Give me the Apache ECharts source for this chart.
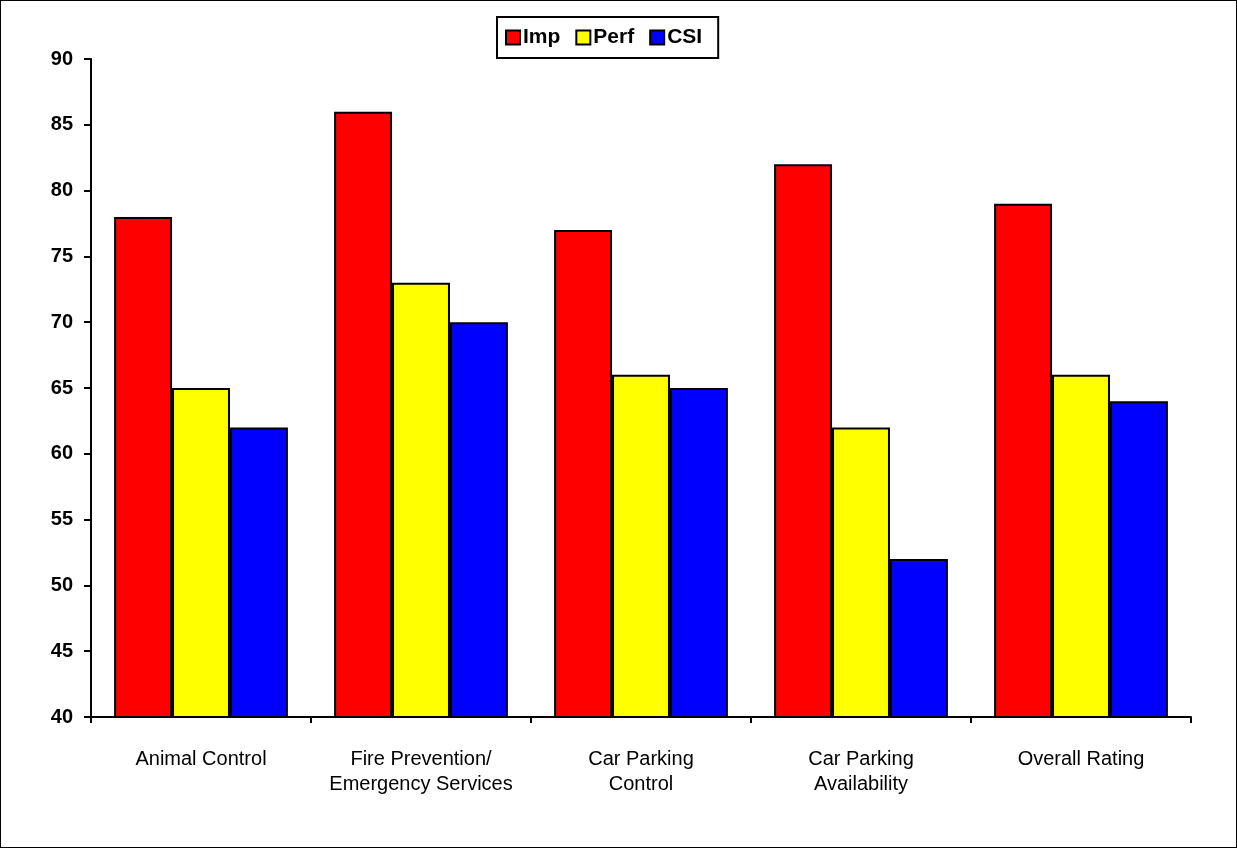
<!DOCTYPE html>
<html><head><meta charset="utf-8">
<script src="https://cdn.jsdelivr.net/npm/echarts@6/dist/echarts.min.js"></script>
<style>html,body{margin:0;padding:0;background:#fff;}#c{width:1237px;height:848px;box-sizing:border-box;border:1px solid #000;}</style>
</head><body><div id="c"></div>
<script>
const categories = ["Animal Control", "Fire Prevention/\nEmergency Services", "Car Parking\nControl", "Car Parking\nAvailability", "Overall Rating"];
const imp = [78, 86, 77, 82, 79];
const perf = [65, 73, 66, 62, 66];
const csi = [62, 70, 65, 52, 64];
const yTicks = [40, 45, 50, 55, 60, 65, 70, 75, 80, 85, 90];

const chart = echarts.init(document.getElementById('c'), null, {renderer: 'canvas'});
const font = "'Liberation Sans', Arial, sans-serif";
function bar(name, data, color) {
  return {name, type: 'bar', data, barGap: '0%', barCategoryGap: '21%',
    itemStyle: {color, borderColor: '#000', borderWidth: 2}};
}
chart.setOption({
  animation: false,
  textStyle: {fontFamily: font},
  legend: {
    top: 16, left: 496, itemWidth: 14, itemHeight: 14, itemGap: 15, icon: 'rect',
    itemStyle: {borderColor: '#000', borderWidth: 2},
    borderColor: '#000', borderWidth: 2, padding: [10, 16, 10, 8],
    textStyle: {fontFamily: font, fontWeight: 'bold', fontSize: 21, color: '#000', padding: [0, 0, 0, -2]},
    data: ['Imp', 'Perf', 'CSI']
  },
  grid: {left: 90, right: 45, top: 58, bottom: 130, containLabel: false},
  xAxis: {
    type: 'category', data: categories,
    axisLine: {lineStyle: {color: '#000', width: 2}},
    axisTick: {show: true, length: 6, lineStyle: {color: '#000', width: 2}},
    axisLabel: {fontFamily: font, fontSize: 20, color: '#000', margin: 30, lineHeight: 25, interval: 0}
  },
  yAxis: {
    type: 'value', min: yTicks[0], max: yTicks[yTicks.length - 1], interval: 5,
    splitLine: {show: false},
    axisLine: {show: true, lineStyle: {color: '#000', width: 2}},
    axisTick: {show: true, length: 7, lineStyle: {color: '#000', width: 2}},
    axisLabel: {fontFamily: font, fontSize: 20, fontWeight: 'bold', color: '#000', margin: 18}
  },
  series: [bar('Imp', imp, '#ff0000'), bar('Perf', perf, '#ffff00'), bar('CSI', csi, '#0000ff')]
});
</script></body></html>
